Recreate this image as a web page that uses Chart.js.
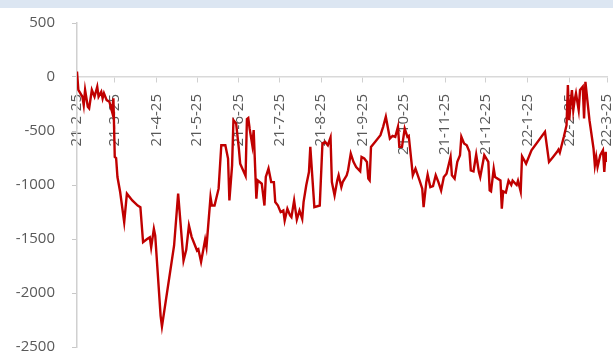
<!DOCTYPE html>
<html>
<head>
<meta charset="utf-8">
<script src="https://cdn.jsdelivr.net/npm/chart.js@4"></script>
<style>
  html, body { margin: 0; padding: 0; background: #fff; }
  .band { height: 8px; background: #dce6f2; }
  .wrap { width: 613px; height: 346px; position: relative; }
</style>
</head>
<body>
<div class="band"></div>
<div class="wrap"><canvas id="chart"></canvas></div>
<script>
// days since 2021-02-25
const days = [0,1,4,5,6,8,9,11,13,15,16,18,19,20,22,24,25,26,27,28,29,30,32,35,37,41,45,47,49,52,54,55,57,58,62,63,72,75,79,81,83,85,89,90,92,95,96,99,100,102,105,107,110,112,113,115,116,118,120,121,125,126,127,128,130,131,133,134,137,139,140,142,144,146,147,149,151,153,154,156,158,159,161,163,165,167,168,170,172,173,176,180,182,184,186,188,189,191,193,194,196,197,200,201,203,205,207,210,211,213,215,216,217,218,221,225,227,229,232,234,236,238,239,241,243,245,246,248,249,251,254,256,257,259,260,262,264,266,268,270,272,274,277,278,280,282,284,285,287,289,291,292,294,296,298,299,302,305,306,307,309,310,314,315,316,318,320,322,323,326,327,329,330,333,337,347,350,353,356,357,358,361,363,364,365,366,367,368,369,370,372,373,375,376,377,380,383,384,385,386,388,390,391,392,393];
const values = [50,-120,-183,-260,-120,-275,-290,-120,-183,-90,-183,-136,-198,-151,-214,-229,-275,-322,-198,-740,-750,-926,-1065,-1344,-1080,-1143,-1190,-1205,-1530,-1500,-1484,-1577,-1406,-1468,-2211,-2310,-1560,-1080,-1700,-1600,-1375,-1480,-1607,-1595,-1712,-1507,-1575,-1112,-1190,-1190,-1034,-632,-632,-755,-1143,-818,-400,-430,-662,-802,-915,-390,-380,-477,-632,-492,-1127,-957,-988,-1190,-926,-848,-973,-973,-1158,-1190,-1251,-1236,-1329,-1220,-1282,-1298,-1143,-1320,-1236,-1313,-1158,-1003,-880,-647,-1205,-1190,-616,-601,-632,-560,-973,-1096,-957,-910,-1019,-973,-910,-864,-709,-786,-833,-873,-740,-755,-786,-941,-957,-647,-601,-539,-461,-368,-570,-545,-554,-461,-647,-647,-477,-554,-545,-786,-910,-848,-957,-1034,-1205,-973,-904,-1019,-1010,-910,-973,-1050,-926,-895,-740,-910,-941,-786,-724,-554,-616,-632,-693,-864,-873,-718,-880,-926,-724,-786,-1050,-1059,-848,-926,-957,-1220,-1059,-1070,-960,-1000,-960,-1000,-960,-1060,-734,-802,-678,-508,-786,-740,-693,-672,-700,-554,-446,-74,-400,-245,-121,-307,-214,-151,-307,-121,-90,-384,-44,-400,-662,-818,-740,-833,-724,-678,-880,-693,-786];

const tickDays = [0, 28, 59, 89, 120, 150, 181, 212, 242, 273, 303, 334, 365, 393];
const tickLabels = ["21-2-25", "21-3-25", "21-4-25", "21-5-25", "21-6-25", "21-7-25", "21-8-25", "21-9-25", "21-10-25", "21-11-25", "21-12-25", "22-1-25", "22-2-25", "22-3-25"];

const font = { family: "'Open Sans', sans-serif", size: 15 };

new Chart(document.getElementById("chart"), {
  type: "line",
  data: {
    datasets: [{
      data: days.map((d, i) => ({ x: d, y: values[i] })),
      borderColor: "#c00000",
      borderWidth: 2.4,
      pointRadius: 0,
      tension: 0,
      fill: false
    }]
  },
  options: {
    responsive: true,
    maintainAspectRatio: false,
    animation: false,
    layout: { padding: { top: 15, bottom: 7, left: 0, right: 6 } },
    plugins: { legend: { display: false }, tooltip: { enabled: false } },
    scales: {
      x: {
        type: "linear",
        position: { y: 0 },
        min: 0,
        max: 393,
        afterBuildTicks: scale => {
          scale.ticks = tickDays.map(v => ({ value: v }));
        },
        afterFit: scale => {
          scale.paddingLeft = 0;
          scale.paddingRight = 0;
        },
        ticks: {
          autoSkip: false,
          maxRotation: 90,
          minRotation: 90,
          padding: 12,
          color: "#595959",
          font: font,
          callback: v => tickLabels[tickDays.indexOf(v)]
        },
        grid: { drawOnChartArea: false, tickLength: 5, color: "#d0d0d0" },
        border: { color: "#d9d9d9", width: 1.5 }
      },
      y: {
        min: -2500,
        max: 500,
        afterFit: scale => {
          scale.width = 77;
          scale.paddingTop = 0;
          scale.paddingBottom = 0;
        },
        ticks: {
          stepSize: 500,
          padding: 17,
          color: "#595959",
          font: font,
          callback: v => String(v)
        },
        grid: { drawOnChartArea: false, tickLength: 5, color: "#c8c8c8" },
        border: { color: "#d0d0d0", width: 1.5 }
      }
    }
  }
});
</script>
</body>
</html>
